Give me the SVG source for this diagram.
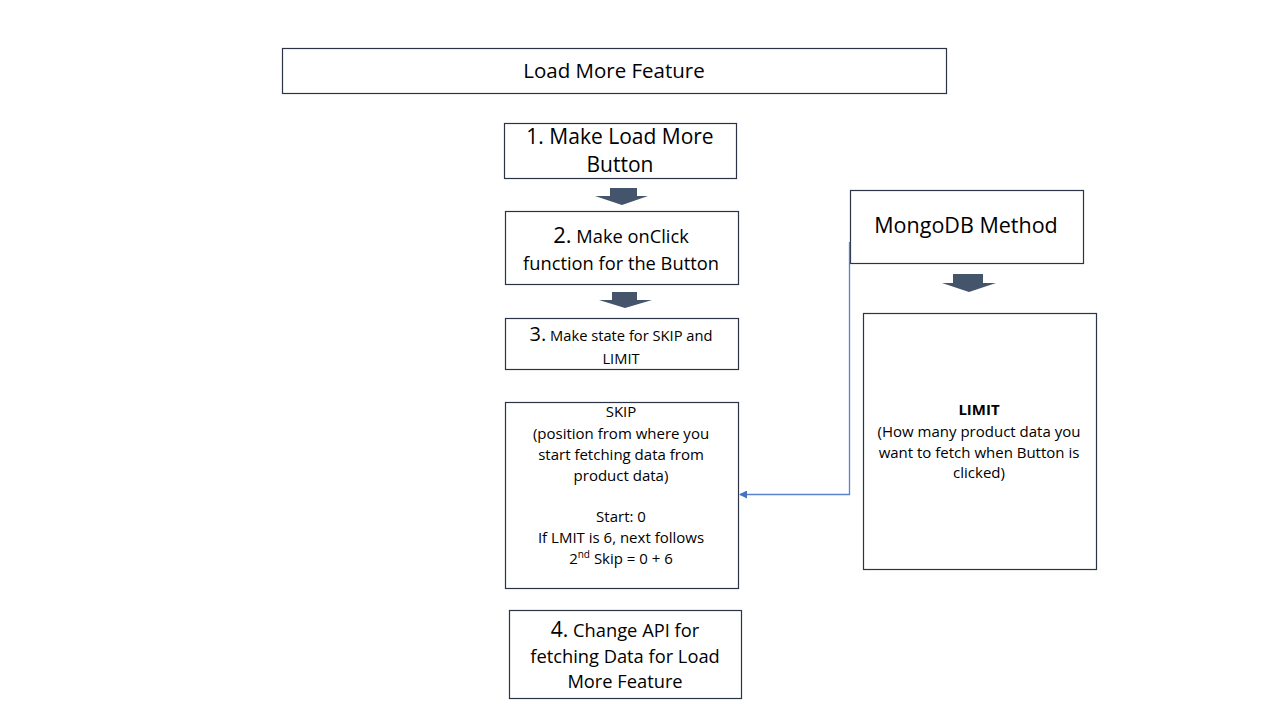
<svg xmlns="http://www.w3.org/2000/svg" width="1280" height="720" viewBox="0 0 1280 720">
<style>
.box{fill:#fff;stroke:#2b3445;stroke-width:1.2}
.t{font-family:"Open Sans","Liberation Sans",sans-serif;fill:#000;text-anchor:middle}
.blk{fill:#44546a}
.conn{fill:none;stroke:#5b82c8;stroke-width:1.3}
</style>
<defs>
<marker id="ah" markerWidth="8" markerHeight="8" refX="7" refY="4" orient="auto" markerUnits="userSpaceOnUse">
<path d="M0,0 L8,4 L0,8 Z" fill="#4472c4"/>
</marker>
</defs>
<rect width="1280" height="720" fill="#fff"/>
<g id="title">
<rect class="box" x="282.5" y="48.5" width="664" height="45"/>
<text class="t" x="614" y="78" font-size="20.5">Load More Feature</text>
</g>
<g id="step1">
<rect class="box" x="504.5" y="123.5" width="232" height="55"/>
<text class="t" x="620" y="144" font-size="21">1. Make Load More</text>
<text class="t" x="620" y="172" font-size="21">Button</text>
</g>
<g id="step2">
<rect class="box" x="505.5" y="211.5" width="233" height="73"/>
<text class="t" x="621" y="243" font-size="18.3"><tspan font-size="22">2.</tspan> Make onClick</text>
<text class="t" x="621" y="270" font-size="18.3">function for the Button</text>
</g>
<g id="step3">
<rect class="box" x="505.5" y="318.5" width="233" height="51"/>
<text class="t" x="621" y="341" font-size="14.7"><tspan font-size="20">3.</tspan> Make state for SKIP and</text>
<text class="t" x="621" y="364" font-size="14.7">LIMIT</text>
</g>
<g id="skip">
<rect class="box" x="505.5" y="402.5" width="233" height="186"/>
<g class="t" font-size="15">
<text x="621" y="417">SKIP</text>
<text x="621" y="439">(position from where you</text>
<text x="621" y="460">start fetching data from</text>
<text x="621" y="481">product data)</text>
<text x="621" y="522">Start: 0</text>
<text x="621" y="543">If LMIT is 6, next follows</text>
<text x="621" y="564">2<tspan font-size="10" dy="-6">nd</tspan><tspan dy="6"> Skip = 0 + 6</tspan></text>
</g>
</g>
<g id="step4">
<rect class="box" x="509.5" y="610.5" width="232" height="88"/>
<text class="t" x="625" y="637" font-size="18.3"><tspan font-size="21">4.</tspan> Change API for</text>
<text class="t" x="625" y="663" font-size="18.3">fetching Data for Load</text>
<text class="t" x="625" y="688" font-size="18.3">More Feature</text>
</g>
<g id="mongo">
<rect class="box" x="850.5" y="190.5" width="233" height="73"/>
<text class="t" x="966" y="233" font-size="21.5">MongoDB Method</text>
</g>
<g id="limit">
<rect class="box" x="863.5" y="313.5" width="233" height="256"/>
<text class="t" x="979" y="415" font-size="15" font-weight="bold">LIMIT</text>
<text class="t" x="979" y="437" font-size="15">(How many product data you</text>
<text class="t" x="979" y="458" font-size="15">want to fetch when Button is</text>
<text class="t" x="979" y="478" font-size="15">clicked)</text>
</g>
<g id="connectors">
<path class="blk" d="M610,188 H637 V196 H648 L622,205 L595,196 H610 Z"/>
<path class="blk" d="M612,292 H637 V300 H652 L625,308 L599,300 H612 Z"/>
<path class="blk" d="M953,274 H983 V283 H996 L969,292 L942,283 H953 Z"/>
<path class="conn" d="M849.5,242 V494.5 H740" marker-end="url(#ah)"/>
</g>
</svg>
